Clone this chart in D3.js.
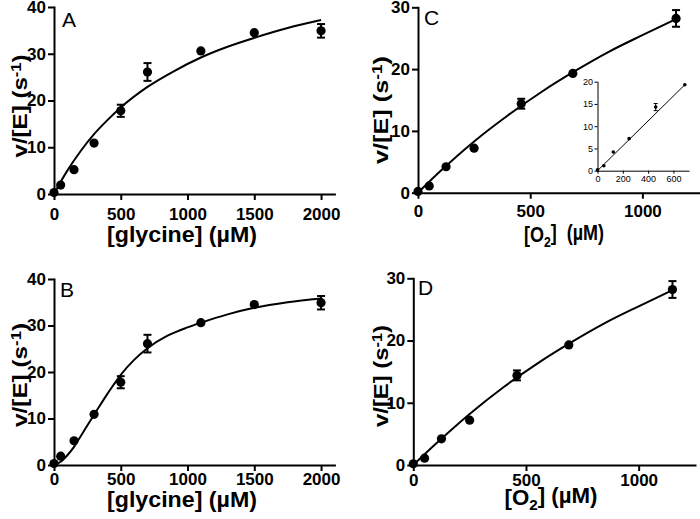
<!DOCTYPE html>
<html><head><meta charset="utf-8">
<script src="https://cdn.jsdelivr.net/npm/d3@7"></script>
<style>body{margin:0;background:#fff} svg{display:block}</style>
</head><body><svg id="c" width="700" height="519"></svg>
<script>
// ---- data ----
const glyX   = [0, 50, 150, 300, 500, 700, 1100, 1500, 2000];
const glyY   = [0.3, 1.9, 5.2, 10.9, 17.8, 26.1, 30.6, 34.5, 34.9];
const glyErr = [0, 0, 0, 0, 1.3, 1.9, 0, 0, 1.45];

const o2X   = [0, 50, 125, 250, 460, 690, 1150];
const o2Y   = [0.2, 1.1, 4.2, 7.2, 14.4, 19.3, 28.2];
const o2Err = [0, 0, 0, 0, 0.8, 0, 1.35];

// fitted curves
const fitAX = [0, 50, 100, 200, 300, 400, 500, 700, 900, 1100, 1300, 1500, 1750, 2000];
const fitAY = [0, 2.6, 5.0, 9.2, 12.8, 15.8, 18.5, 22.9, 26.3, 29.2, 31.5, 33.4, 35.5, 37.2];
const fitBX = [0, 50, 100, 150, 200, 300, 400, 500, 600, 700, 850, 1000, 1100, 1300, 1500, 1750, 2000];
const fitBY = [0, 0.7, 2.1, 3.9, 6.2, 10.8, 15.3, 19.4, 22.6, 25.1, 27.8, 29.6, 30.6, 32.4, 33.8, 35.0, 35.8];
const fitCX = [0, 100, 250, 400, 550, 700, 850, 1000, 1150];
const fitCY = [0, 3.5, 8.3, 12.5, 16.3, 19.7, 22.8, 25.5, 28.1];
const fitDX = [0, 100, 250, 400, 550, 700, 850, 1000, 1150];
const fitDY = [0, 3.4, 8.2, 12.5, 16.3, 19.7, 22.8, 25.5, 28.1];

const insetX = [0, 50, 125, 250, 460, 690];
const insetY = [0.2, 1.1, 4.2, 7.2, 14.3, 19.3];
const insetErr = [0, 0, 0, 0, 0.8, 0];
const insetLineX = [0, 690];
const insetLineY = [0, 19.3];

const glyTicks = [0, 500, 1000, 1500, 2000];
const o2Ticks = [0, 500, 1000];
const vTicks40 = [0, 10, 20, 30, 40];
const vTicks30 = [0, 10, 20, 30];
const insetXTicks = [0, 200, 400, 600];
const insetYTicks = [0, 5, 10, 15, 20];

const FONT = "'Liberation Sans', Arial, Helvetica, sans-serif";
const svg = d3.select("#c");

function zip(xs, ys) { return xs.map((x, i) => [x, ys[i]]); }

function panel(cfg) {
  const g = svg.append("g");
  const x = d3.scaleLinear().domain(cfg.xd).range(cfg.xr);
  const y = d3.scaleLinear().domain(cfg.yd).range(cfg.yr);
  const sw = cfg.sw;

  const ax = g.append("g").attr("transform", `translate(0,${cfg.yr[0]})`)
    .call(d3.axisBottom(x).tickValues(cfg.xt).tickSize(cfg.ts).tickSizeOuter(0).tickPadding(cfg.xpad).tickFormat(d3.format("d")));
  const ay = g.append("g").attr("transform", `translate(${cfg.xr[0]},0)`)
    .call(d3.axisLeft(y).tickValues(cfg.yt).tickSize(cfg.ts).tickSizeOuter(0).tickPadding(cfg.ypad).tickFormat(d3.format("d")));
  [ax, ay].forEach(a => {
    a.select(".domain").attr("stroke", "#000").attr("stroke-width", sw).attr("stroke-linecap", "square");
    a.selectAll(".tick line").attr("stroke", "#000").attr("stroke-width", sw);
    a.selectAll(".tick text").attr("fill", "#000")
      .style("font-family", FONT).style("font-size", cfg.fs + "px").style("font-weight", cfg.fw);
  });

  // fit curve
  g.append("path").datum(zip(cfg.cx, cfg.cy))
    .attr("fill", "none").attr("stroke", "#000").attr("stroke-width", cfg.lw)
    .attr("d", d3.line().x(d => x(d[0])).y(d => y(d[1])).curve(d3.curveMonotoneX));

  // error bars
  const pts = cfg.px.map((v, i) => ({ x: v, y: cfg.py[i], e: cfg.pe[i] }));
  const eb = g.append("g").attr("stroke", "#000").attr("stroke-width", cfg.lw);
  pts.filter(d => d.e > 0).forEach(d => {
    const cx = x(d.x);
    eb.append("line").attr("x1", cx).attr("x2", cx).attr("y1", y(d.y - d.e)).attr("y2", y(d.y + d.e));
    [d.y - d.e, d.y + d.e].forEach(v =>
      eb.append("line").attr("x1", cx - cfg.cap).attr("x2", cx + cfg.cap).attr("y1", y(v)).attr("y2", y(v)));
  });
  g.append("g").selectAll("circle").data(pts).join("circle")
    .attr("cx", d => x(d.x)).attr("cy", d => y(d.y)).attr("r", cfg.r).attr("fill", "#000");
  return g;
}

function yTitle(cx, cy, len) {
  const t = svg.append("text")
    .attr("transform", `translate(${cx},${cy}) rotate(-90)`)
    .attr("text-anchor", "middle")
    .attr("textLength", len).attr("lengthAdjust", "spacingAndGlyphs")
    .style("font-family", FONT).style("font-size", "20.5px").style("font-weight", "bold");
  t.append("tspan").text("v/[E] (s");
  t.append("tspan").text("-1").attr("dy", "-0.45em").style("font-size", "14px");
  t.append("tspan").text(")").attr("dy", "0.3em");
}

function xTitle(cx, by, len, parts) {
  const t = svg.append("text").attr("x", cx).attr("y", by).attr("text-anchor", "middle")
    .attr("textLength", len).attr("lengthAdjust", "spacingAndGlyphs")
    .style("font-family", FONT).style("font-size", "22px").style("font-weight", "bold");
  parts.forEach(p => {
    const s = t.append("tspan").text(p.t);
    if (p.sub) s.attr("dy", "0.3em").style("font-size", "15px");
    if (p.back) s.attr("dy", "-0.3em");
  });
  return t;
}

function letter(x, y, s) {
  svg.append("text").attr("x", x).attr("y", y).text(s)
    .style("font-family", FONT).style("font-size", "21px");
}

const big = { ts: 6, ypad: 2, fs: 17, fw: "bold", sw: 2, lw: 2, r: 4.6, cap: 4 };

// A
panel(Object.assign({}, big, { xpad: 8, xd: [0, 2100], xr: [54, 334.4], yd: [0, 40], yr: [194, 7],
  xt: glyTicks, yt: vTicks40, cx: fitAX, cy: fitAY, px: glyX, py: glyY, pe: glyErr }));
// B
panel(Object.assign({}, big, { xpad: 2, xd: [0, 2100], xr: [54, 334.4], yd: [0, 40], yr: [465, 279],
  xt: glyTicks, yt: vTicks40, cx: fitBX, cy: fitBY, px: glyX, py: glyY, pe: glyErr }));
// C
panel(Object.assign({}, big, { xpad: 6, xd: [0, 1250], xr: [418, 698.5], yd: [0, 30], yr: [192.7, 7.3],
  xt: o2Ticks, yt: vTicks30, cx: fitCX, cy: fitCY, px: o2X, py: o2Y, pe: o2Err }));
// D
panel(Object.assign({}, big, { xpad: 3, xd: [0, 1250], xr: [413.3, 695], yd: [0, 30], yr: [465, 278.3],
  xt: o2Ticks, yt: vTicks30, cx: fitDX, cy: fitDY, px: o2X, py: o2Y, pe: o2Err }));
// inset in C
panel({ ts: 3, xpad: 2, ypad: 1.5, fs: 9, fw: "normal", sw: 1, lw: 1, r: 1.8, cap: 2,
  xd: [0, 720], xr: [597.5, 688.6], yd: [0, 20], yr: [170.7, 81.7],
  xt: insetXTicks, yt: insetYTicks, cx: insetLineX, cy: insetLineY, px: insetX, py: insetY, pe: insetErr });

letter(62, 27, "A");
letter(60, 297, "B");
letter(424, 25, "C");
letter(418, 295, "D");

yTitle(27, 106, 103);
yTitle(27, 375, 104);
yTitle(388, 110, 108);
yTitle(388, 376, 102);

xTitle(182, 242, 150, [{ t: "[glycine] (\u00B5M)" }]);
xTitle(182, 507, 150, [{ t: "[glycine] (\u00B5M)" }]);
xTitle(564, 242, 80, [{ t: "[O" }, { t: "2", sub: true }, { t: "]\u00A0 (\u00B5M)", back: true }]);
xTitle(551, 505, 93, [{ t: "[O" }, { t: "2", sub: true }, { t: "] (\u00B5M)", back: true }]);
</script>
</body></html>
